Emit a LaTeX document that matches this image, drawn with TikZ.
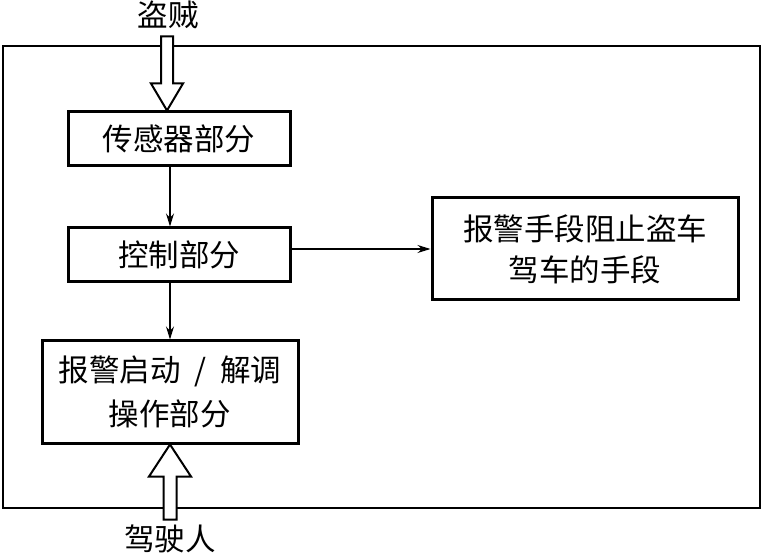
\documentclass[tikz,border=0pt]{standalone}
\usepackage{fontspec}
\newfontfamily\cjk{Noto Sans CJK SC}
\usetikzlibrary{arrows.meta,calc}
\begin{document}
\begin{tikzpicture}[x=1pt,y=-1pt,
  txt/.style={font=\cjk\fontsize{30.5}{41}\selectfont, align=center, inner sep=0pt},
  box/.style={txt, draw, line width=3pt, rectangle},
  thin/.style={line width=1.3pt, -{Stealth[length=13pt,width=8pt]}},
  hollow/.style={draw, line width=2pt, fill=white, line join=miter}]
\useasboundingbox (0,0) rectangle (764,556);
\node[draw, line width=2.6pt, minimum width=757pt, minimum height=462pt, inner sep=0pt] (frame) at (381.5,277) {};
\node[box, minimum width=222pt, minimum height=54pt] (sensor) at (179,139) {传感器部分};
\node[box, minimum width=222pt, minimum height=54pt] (control) at (179,255) {控制部分};
\node[box, minimum width=306pt, minimum height=102pt] (means) at (585,249) {报警手段阻止盗车\\[0pt]驾车的手段};
\node[box, minimum width=256pt, minimum height=102pt] (alarm) at (170,392) {报警启动\hspace{0.45em}/\hspace{0.45em}解调\\[3pt]操作部分};
\node[txt] (thief) at (168,15) {盗贼};
\node[txt] (driver) at (170,539) {驾驶人};
\draw[thin] (sensor.south -| alarm.north) -- (control.north -| alarm.north);
\draw[thin] (control.south -| alarm.north) -- (alarm.north);
\draw[thin] (control.east |- means.west) -- (means.west);
\coordinate (tipA) at ($(sensor.north)+(-12,0)$);
\draw[hollow, shift={(tipA)}] (0,0) -- (-16,-27) -- (-6,-27) -- (-6,-74) -- (6,-74) -- (6,-27) -- (16,-27) -- cycle;
\coordinate (tipB) at (alarm.south);
\draw[hollow, shift={(tipB)}] (0,0) -- (-21,32) -- (-6.5,32) -- (-6.5,75) -- (6.5,75) -- (6.5,32) -- (21,32) -- cycle;
\end{tikzpicture}
\end{document}
